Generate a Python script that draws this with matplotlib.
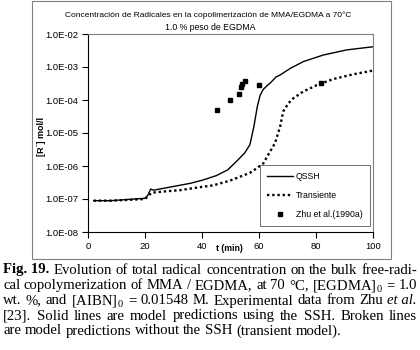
import matplotlib
matplotlib.use('Agg')
import matplotlib.pyplot as plt
from matplotlib.patches import Rectangle

# model curves and data
t_qssh = [2, 8, 15, 20, 21, 22, 23, 30, 36, 40.5, 45, 49, 52, 55, 56.8, 58.2,
          59.4, 60.4, 61.5, 63, 64, 66, 67.5, 71, 75.5, 82.5, 90.8, 100]
r_qssh = [8.9e-8, 8.9e-8, 9.8e-8, 1.05e-7, 1.3e-7, 2.0e-7, 1.85e-7, 2.4e-7,
          3.0e-7, 3.8e-7, 5.1e-7, 7.6e-7, 1.35e-6, 2.5e-6, 4.4e-6, 1.55e-5,
          6.3e-5, 1.4e-4, 2.1e-4, 2.8e-4, 3.3e-4, 5.0e-4, 5.8e-4, 9.1e-4,
          1.45e-3, 2.3e-3, 3.3e-3, 4.1e-3]

t_trans = [2, 8, 15, 20, 22.3, 27, 32.3, 38, 44, 49.8, 53, 56.8, 59, 61.5,
           63.5, 65.6, 67.4, 68.5, 70.3, 72, 75.5, 80.2, 86, 93, 100]
r_trans = [8.9e-8, 8.9e-8, 9.5e-8, 1.0e-7, 1.55e-7, 1.7e-7, 1.85e-7, 2.2e-7,
           2.6e-7, 3.6e-7, 4.6e-7, 6.2e-7, 8.3e-7, 1.2e-6, 2.4e-6, 4.9e-6,
           1.55e-5, 4.5e-5, 7.9e-5, 1.12e-4, 1.8e-4, 2.8e-4, 4.3e-4, 6.0e-4,
           7.8e-4]

t_exp = [45.2, 49.8, 52.9, 53.8, 54.0, 55.0, 59.9, 81.8]
r_exp = [5.0e-5, 1.0e-4, 1.5e-4, 2.4e-4, 3.0e-4, 3.8e-4, 2.8e-4, 3.2e-4]

yticks = [1e-8, 1e-7, 1e-6, 1e-5, 1e-4, 1e-3, 1e-2]
ylabels = ['1.0E-08', '1.0E-07', '1.0E-06', '1.0E-05', '1.0E-04', '1.0E-03', '1.0E-02']
xticks = [0, 20, 40, 60, 80, 100]

plt.rcParams['font.family'] = ['Liberation Sans', 'DejaVu Sans']
plt.rcParams['mathtext.fontset'] = 'custom'
plt.rcParams['mathtext.rm'] = 'Liberation Serif'
plt.rcParams['mathtext.it'] = 'Liberation Serif:italic'
plt.rcParams['mathtext.bf'] = 'Liberation Serif:bold'

W, H = 420, 350
fig = plt.figure(figsize=(4.2, 3.5), dpi=100)

# outer chart frame
fig.patches.append(Rectangle((32 / W, 1 - 259 / H), 359 / W, 258 / H,
                             transform=fig.transFigure, fill=False,
                             edgecolor='#808080', linewidth=0.8))

ax = fig.add_axes([88 / W, 1 - 232 / H, 285 / W, 198 / H])
ax.plot(t_qssh, r_qssh, color='black', linewidth=1.0, label='QSSH')
ax.plot(t_trans, r_trans, color='black', linewidth=1.7,
        linestyle=(0, (1, 1.2)), dash_capstyle='butt', label='Transiente')
ax.plot(t_exp, r_exp, linestyle='none', marker='s', markersize=3.3,
        color='black', label='Zhu et al.(1990a)')

ax.set_yscale('log')
ax.set_ylim(1e-8, 1e-2)
ax.set_xlim(0, 100)
ax.set_yticks(yticks)
ax.set_yticklabels(ylabels)
ax.yaxis.set_minor_locator(matplotlib.ticker.NullLocator())
ax.set_xticks(xticks)
ax.tick_params(direction='out', length=4, width=0.8, labelsize=6.8, pad=3)
ax.spines['top'].set_color('#808080')
ax.spines['right'].set_color('#808080')
for s in ax.spines.values():
    s.set_linewidth(0.8)

ax.text(0.498, -0.081, 't (min)', transform=ax.transAxes, ha='center',
        va='center', fontsize=6.3, fontweight='bold')
fig.text(41 / W, 1 - 136 / H, '[R\u02d9] mol/l', rotation=90,
         ha='center', va='center', fontsize=6.5, fontweight='bold')

fig.text(208 / W, 1 - 15 / H,
         'Concentración de Radicales en la copolimerización de MMA/EGDMA a 70°C',
         ha='center', va='center', fontsize=6.0)
fig.text(210 / W, 1 - 28 / H, '1.0 % peso de EGDMA', ha='center',
         va='center', fontsize=6.3)

leg = ax.legend(loc='lower right', bbox_to_anchor=(0.989, 0.03), fontsize=6.3,
                frameon=True, fancybox=False, edgecolor='#303030',
                handlelength=3.0, labelspacing=1.15, borderpad=0.8,
                handletextpad=0.3, borderaxespad=0)
leg.get_frame().set_linewidth(0.6)

# caption, justified word by word
caption = [
    [('Fig. 19.', 'bold'), ('Evolution', ''), ('of', ''), ('total', ''),
     ('radical', ''), ('concentration', ''), ('on', ''), ('the', ''),
     ('bulk', ''), ('free-radi-', '')],
    [('cal', ''), ('copolymerization', ''), ('of', ''), ('MMA', ''), ('/', ''),
     ('EGDMA,', ''), ('at', ''), ('70', ''), ('°C,', ''),
     ('[EGDMA]$_0$', ''), ('=', ''), ('1.0', '')],
    [('wt.', ''), ('%,', ''), ('and', ''), ('[AIBN]$_0$', ''), ('=', ''),
     ('0.01548', ''), ('M.', ''), ('Experimental', ''), ('data', ''),
     ('from', ''), ('Zhu', ''), ('et al.', 'italic')],
    [('[23].', ''), ('Solid', ''), ('lines', ''), ('are', ''), ('model', ''),
     ('predictions', ''), ('using', ''), ('the', ''), ('SSH.', ''),
     ('Broken', ''), ('lines', '')],
    [('are', ''), ('model', ''), ('predictions', ''), ('without', ''),
     ('the', ''), ('SSH', ''), ('(transient', ''), ('model).', '')],
]
line_y = [270, 285.5, 301, 316, 331]
x_left, x_right = 3, 417
cap_size = 10.6
renderer = fig.canvas.get_renderer()
for words, y in zip(caption, line_y):
    objs = []
    for w, style in words:
        kw = dict(fontsize=cap_size, family='Liberation Serif', va='center',
                  ha='left')
        if style == 'bold':
            kw['fontweight'] = 'bold'
        if style == 'italic':
            kw['fontstyle'] = 'italic'
        objs.append(fig.text(0, 1 - y / H, w, **kw))
    widths = [o.get_window_extent(renderer).width for o in objs]
    if words is caption[-1]:
        gap = 3.6
    else:
        gap = (x_right - x_left - sum(widths)) / (len(words) - 1)
        gap = max(gap, 2.0)
    x = x_left
    for o, wd in zip(objs, widths):
        o.set_x(x / W)
        x += wd + gap

fig.savefig('out.png', dpi=100)
